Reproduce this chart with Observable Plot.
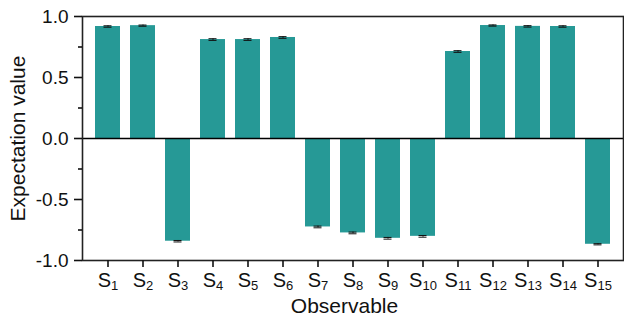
<!DOCTYPE html>
<html><head><meta charset="utf-8">
<script src="https://cdn.jsdelivr.net/npm/d3@7"></script>
<script src="https://cdn.jsdelivr.net/npm/@observablehq/plot@0.6"></script>
<style>
body{margin:0;background:#fff}
svg{font-family:"Liberation Sans",Arial,sans-serif}
</style>
</head><body><div id="chart"></div>
<script>
const observables = ["S1","S2","S3","S4","S5","S6","S7","S8","S9","S10","S11","S12","S13","S14","S15"];
const subscripts = ["1","2","3","4","5","6","7","8","9","10","11","12","13","14","15"];
const values = [0.918, 0.925, -0.842, 0.811, 0.811, 0.828, -0.725, -0.774, -0.818, -0.802, 0.713, 0.926, 0.919, 0.918, -0.867];
const errors = [0.006, 0.005, 0.006, 0.007, 0.007, 0.007, 0.007, 0.007, 0.007, 0.007, 0.007, 0.005, 0.006, 0.006, 0.005];
const yTicks = [-1, -0.5, 0, 0.5, 1];
const yMinorTicks = [-0.75, -0.25, 0.25, 0.75];

const data = observables.map((o, i) => ({o, v: values[i], e: errors[i]}));

const chart = Plot.plot({
  width: 624, height: 318,
  marginLeft: 82, marginRight: 1, marginTop: 16, marginBottom: 58,
  style: {fontFamily: '"Liberation Sans", Arial, sans-serif', fontSize: "18px", color: "#111", background: "#fff"},
  x: {domain: observables, paddingInner: 0.29, paddingOuter: 0.355},
  y: {domain: [-1, 1]},
  marks: [
    Plot.barY(data, {x: "o", y: "v", fill: "#269996"}),
    Plot.ruleX(data, {x: "o", y1: d => d.v - d.e, y2: d => d.v + d.e, stroke: "#111", strokeWidth: 1}),
    Plot.tickY(data, {x: "o", y: d => d.v - d.e, insetLeft: 8.5, insetRight: 8.5, stroke: "#111", strokeWidth: 1}),
    Plot.tickY(data, {x: "o", y: d => d.v + d.e, insetLeft: 8.5, insetRight: 8.5, stroke: "#111", strokeWidth: 1}),
    Plot.ruleY([0], {stroke: "#000", strokeWidth: 1.6}),
    Plot.frame({stroke: "#222", strokeWidth: 1.6}),
    Plot.axisY({ticks: yTicks, tickFormat: d => d.toFixed(1), tickSize: 8, tickPadding: 6, strokeWidth: 1.6, label: null, fontSize: 19}),
    Plot.axisY({ticks: yMinorTicks, tickFormat: () => "", tickSize: 4, strokeWidth: 1.6, label: null}),
    Plot.axisX({tickSize: 7, tickPadding: 5, strokeWidth: 1.6, label: null, fontSize: 20}),
    Plot.text(["Expectation value"], {frameAnchor: "left", textAnchor: "middle", lineAnchor: "middle", rotate: -90, dx: -64, fontSize: 21, fill: "#111"}),
    Plot.text(["Observable"], {frameAnchor: "bottom", textAnchor: "middle", lineAnchor: "middle", dy: 46, dx: -8.5, fontSize: 21, fill: "#111"})
  ]
});

d3.select(chart).selectAll('g[aria-label="x-axis tick label"] text').each(function(d, i) {
  const t = d3.select(this);
  const idx = observables.indexOf(t.text());
  t.text(null);
  t.append("tspan").text("S");
  t.append("tspan").attr("font-size", 13).attr("dy", "3").text(subscripts[idx >= 0 ? idx : i]);
});

document.getElementById("chart").appendChild(chart);
</script>
</body></html>
